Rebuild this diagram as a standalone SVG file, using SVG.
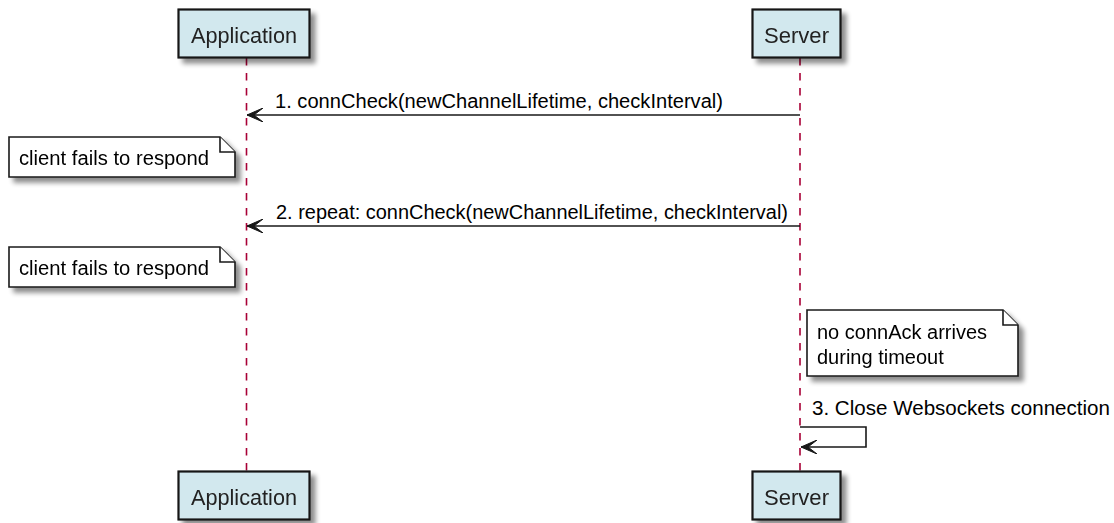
<svg xmlns="http://www.w3.org/2000/svg" width="1114" height="523" viewBox="0 0 1114 523">
<style>
text{font-family:"Liberation Sans",Arial,sans-serif;fill:#000}
.pt{font-size:21.5px;fill:#222}
.msg{font-size:20px}
.box{fill:#D2E8EE;stroke:#181818;stroke-width:2.2}
.life{stroke:#A80036;stroke-width:1.6;stroke-dasharray:7.5,7.5;fill:none}
.line{stroke:#181818;stroke-width:1.6;fill:none}
.note{fill:#FFFFFF;stroke:#181818;stroke-width:1.6}
.fold{fill:#FFFFFF;stroke:#181818;stroke-width:1.6}
.head{fill:#181818;stroke:#181818;stroke-width:1}
</style>
<defs>
<filter id="sh" x="-10%" y="-20%" width="130%" height="160%">
<feGaussianBlur in="SourceAlpha" stdDeviation="2.5"/>
<feOffset dx="5" dy="5" result="b"/>
<feComponentTransfer><feFuncA type="linear" slope="0.45"/></feComponentTransfer>
<feMerge><feMergeNode/><feMergeNode in="SourceGraphic"/></feMerge>
</filter>
<marker id="ah" viewBox="0 0 16 14" refX="16" refY="7" markerWidth="16" markerHeight="14" markerUnits="userSpaceOnUse" orient="auto">
<polygon points="16,7 0,0 9,7 0,14" class="head"/>
</marker>
</defs>
<rect width="1114" height="523" fill="#FFFFFF"/>
<g id="lifelines">
<line class="life" x1="246.5" y1="58" x2="246.5" y2="471"/>
<line class="life" x1="800" y1="58" x2="800" y2="471"/>
</g>
<g id="participant-application-top" filter="url(#sh)">
<rect class="box" x="178.5" y="9.5" width="131" height="48"/>
<text class="pt" x="244" y="42.5" text-anchor="middle" textLength="106" lengthAdjust="spacingAndGlyphs">Application</text>
</g>
<g id="participant-server-top" filter="url(#sh)">
<rect class="box" x="752.5" y="9.5" width="88" height="48"/>
<text class="pt" x="796.5" y="42.5" text-anchor="middle" textLength="65" lengthAdjust="spacingAndGlyphs">Server</text>
</g>
<g id="participant-application-bottom" filter="url(#sh)">
<rect class="box" x="178.5" y="471.5" width="131" height="48"/>
<text class="pt" x="244" y="504.5" text-anchor="middle" textLength="106" lengthAdjust="spacingAndGlyphs">Application</text>
</g>
<g id="participant-server-bottom" filter="url(#sh)">
<rect class="box" x="752.5" y="471.5" width="88" height="48"/>
<text class="pt" x="796.5" y="504.5" text-anchor="middle" textLength="65" lengthAdjust="spacingAndGlyphs">Server</text>
</g>
<g id="connectors">
<line class="line" x1="800" y1="115" x2="247" y2="115" marker-end="url(#ah)"/>
<text class="msg" x="275" y="108" textLength="448" lengthAdjust="spacingAndGlyphs">1. connCheck(newChannelLifetime, checkInterval)</text>
<line class="line" x1="800" y1="226" x2="247" y2="226" marker-end="url(#ah)"/>
<text class="msg" x="276" y="219" textLength="512" lengthAdjust="spacingAndGlyphs">2. repeat: connCheck(newChannelLifetime, checkInterval)</text>
<polyline class="line" points="800,427 866,427 866,447 801,447" marker-end="url(#ah)"/>
<text class="msg" x="812" y="415" textLength="298" lengthAdjust="spacingAndGlyphs">3. Close Websockets connection</text>
</g>
<g id="note-1" filter="url(#sh)">
<path class="note" d="M9,137 H220 L235,152 V177 H9 Z"/>
<path class="fold" d="M220,137 V152 H235"/>
<text class="msg" x="19" y="165" textLength="190" lengthAdjust="spacingAndGlyphs">client fails to respond</text>
</g>
<g id="note-2" filter="url(#sh)">
<path class="note" d="M9,247 H220 L235,262 V287 H9 Z"/>
<path class="fold" d="M220,247 V262 H235"/>
<text class="msg" x="19" y="275" textLength="190" lengthAdjust="spacingAndGlyphs">client fails to respond</text>
</g>
<g id="note-3" filter="url(#sh)">
<path class="note" d="M807,310 H1003 L1018,325 V376 H807 Z"/>
<path class="fold" d="M1003,310 V325 H1018"/>
<text class="msg" x="817" y="339" textLength="170" lengthAdjust="spacingAndGlyphs">no connAck arrives</text>
<text class="msg" x="817" y="364">during timeout</text>
</g>
</svg>
